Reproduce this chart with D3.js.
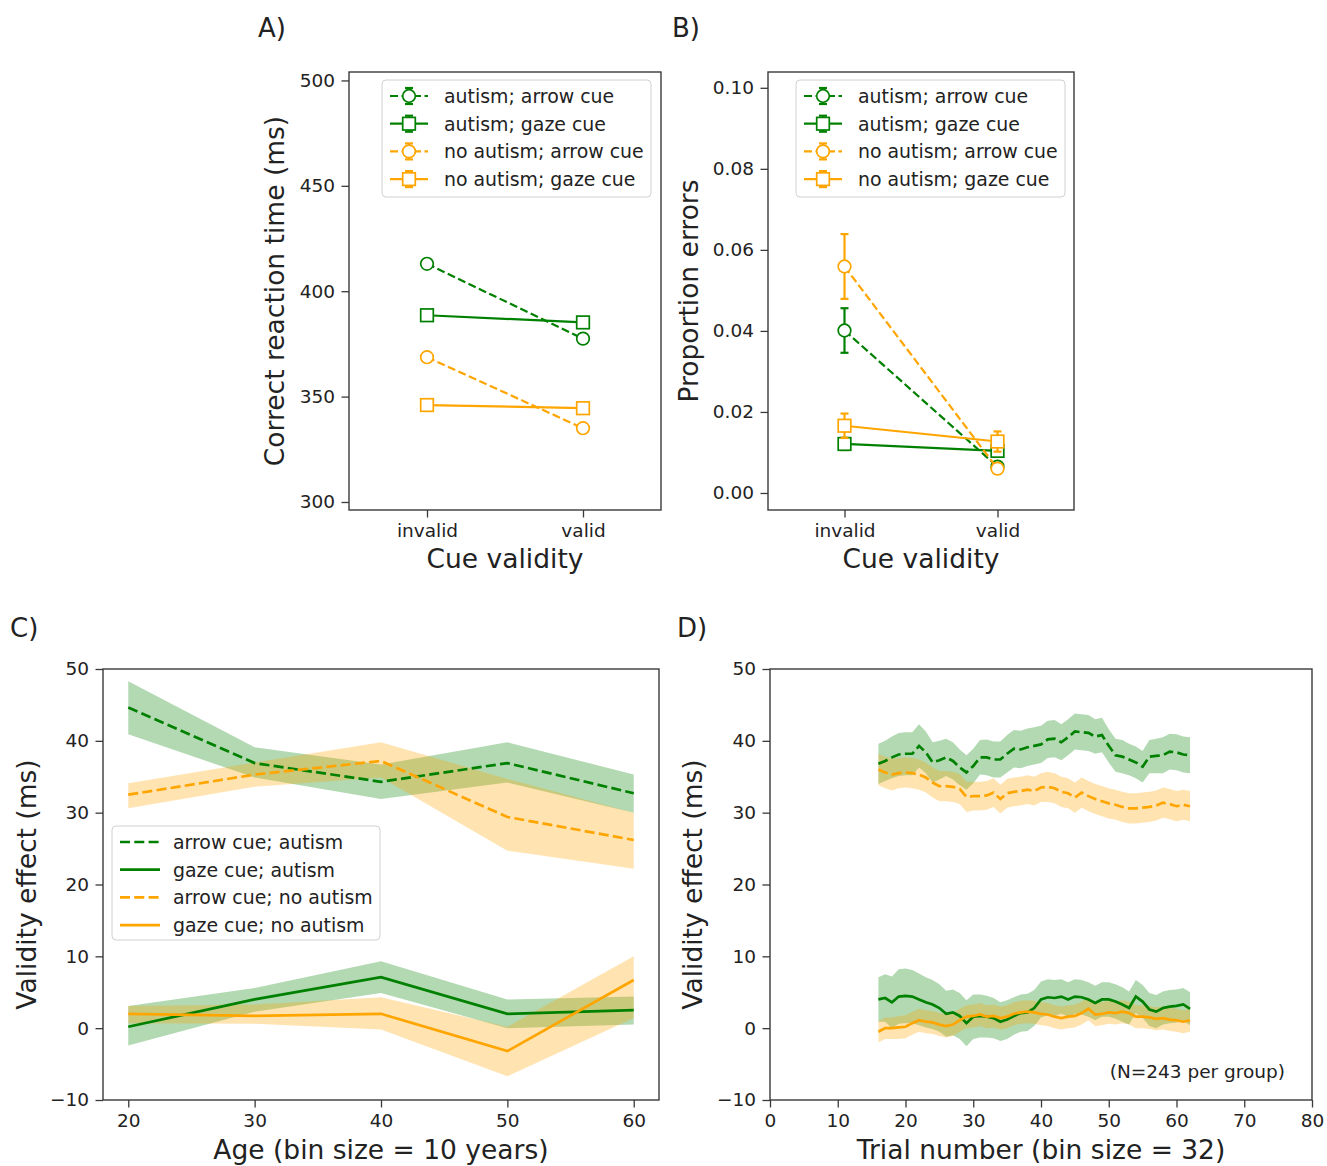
<!DOCTYPE html>
<html><head><meta charset="utf-8">
<script src="https://cdn.jsdelivr.net/npm/d3@7"></script>
<style>body{margin:0;background:#fff}svg{display:block}text{font-family:"DejaVu Sans",sans-serif;fill:#222}</style>
</head><body>
<script>
// ---------------- DATA ----------------
const cueValidity = ["invalid", "valid"];
// Panel A: correct reaction time (ms)
const rtAutismArrow = [413.0, 377.5];
const rtAutismGaze = [388.6, 385.2];
const rtNoAutismArrow = [368.7, 335.0];
const rtNoAutismGaze = [346.0, 344.5];
const rtAutismArrowSE = [1.5, 1.5];
const rtAutismGazeSE = [1.5, 1.5];
const rtNoAutismArrowSE = [1.5, 1.5];
const rtNoAutismGazeSE = [1.5, 1.5];
const rtTicks = [300, 350, 400, 450, 500];
// Panel B: proportion errors
const peAutismArrow = [0.0401, 0.0065];
const peAutismGaze = [0.0121, 0.0104];
const peNoAutismArrow = [0.0559, 0.0060];
const peNoAutismGaze = [0.0166, 0.0127];
const peAutismArrowSE = [0.0055, 0.0010];
const peAutismGazeSE = [0.0015, 0.0010];
const peNoAutismArrowSE = [0.0080, 0.0010];
const peNoAutismGazeSE = [0.0030, 0.0025];
const peTicks = [0.00, 0.02, 0.04, 0.06, 0.08, 0.10];
// Panel C: validity effect by age
const ageBins = [20, 30, 40, 50, 60];
const ageArrowAutism = [44.65, 36.9, 34.3, 36.9, 32.7];
const ageArrowAutismLo = [40.9, 34.9, 31.9, 34.2, 30.0];
const ageArrowAutismHi = [48.3, 39.1, 36.7, 39.8, 35.3];
const ageGazeAutism = [0.2, 4.0, 7.1, 2.0, 2.5];
const ageGazeAutismLo = [-2.4, 2.3, 4.9, 0.0, 0.5];
const ageGazeAutismHi = [3.1, 5.6, 9.3, 4.0, 4.4];
const ageArrowNoAutism = [32.5, 35.3, 37.2, 29.4, 26.2];
const ageArrowNoAutismLo = [30.6, 33.6, 34.9, 24.7, 22.2];
const ageArrowNoAutismHi = [34.1, 37.0, 39.8, 34.7, 30.0];
const ageGazeNoAutism = [2.0, 1.7, 2.0, -3.2, 6.7];
const ageGazeNoAutismLo = [0.7, 0.6, -0.2, -6.7, 1.4];
const ageGazeNoAutismHi = [3.1, 3.3, 4.3, 0.2, 10.0];
const ageTicks = [20, 30, 40, 50, 60];
const effectTicks = [-10, 0, 10, 20, 30, 40, 50];
// Panel D: validity effect by trial number
const trials = [16,17,18,19,20,21,22,23,24,25,26,27,28,29,30,31,32,33,34,35,36,37,38,39,40,41,42,43,44,45,46,47,48,49,50,51,52,53,54,55,56,57,58,59,60,61,62];
const trArrowAutism = [36.8,37.2,37.7,38.1,38.2,38.2,39.3,38.4,37.0,37.3,37.7,37.2,36.3,35.6,36.5,37.7,37.7,37.4,37.4,38.2,38.9,38.8,39.1,39.3,39.5,40.2,40.3,39.8,40.5,41.3,41.2,41.1,40.6,40.8,39.3,38.0,37.8,37.4,37.0,36.4,37.8,37.9,38.0,38.5,38.4,38.1,38.0];
const trArrowAutismSE = [2.8,2.8,2.9,3.0,3.0,3.0,3.0,2.9,2.8,2.7,2.6,2.6,2.5,2.4,2.4,2.4,2.5,2.5,2.5,2.6,2.6,2.6,2.6,2.6,2.6,2.6,2.6,2.5,2.5,2.5,2.5,2.5,2.4,2.4,2.3,2.3,2.3,2.2,2.2,2.2,2.3,2.4,2.5,2.5,2.5,2.5,2.5];
const trArrowNoAutism = [36.0,35.6,35.3,35.5,35.6,35.5,35.3,34.9,34.2,33.7,33.7,33.6,33.3,32.2,32.3,32.3,32.4,32.8,31.9,32.7,32.9,33.0,33.2,33.0,33.5,33.6,33.4,32.9,32.7,32.1,32.8,32.3,31.9,31.6,31.3,31.1,30.8,30.6,30.6,30.7,30.8,31.0,31.4,31.2,30.9,31.1,30.9];
const trArrowNoAutismSE = [2.2,2.2,2.2,2.1,2.1,2.1,2.1,2.1,2.1,2.1,2.1,2.1,2.1,2.1,2.0,2.0,2.0,2.0,2.0,2.0,2.0,2.0,2.0,2.0,2.0,2.1,2.1,2.1,2.1,2.1,2.1,2.1,2.1,2.1,2.1,2.1,2.1,2.1,2.1,2.1,2.1,2.1,2.1,2.1,2.1,2.1,2.1];
const trGazeAutism = [4.0,4.2,3.6,4.4,4.5,4.4,4.0,3.6,3.3,2.8,2.0,2.2,1.7,0.7,1.6,1.7,1.6,1.4,0.9,1.2,1.7,2.1,2.2,2.8,4.0,4.3,4.2,4.4,4.0,4.4,4.3,4.0,3.5,4.0,4.0,3.7,3.3,2.8,4.4,3.7,2.6,2.3,2.8,3.0,3.1,3.3,2.7];
const trGazeAutismSE = [3.1,3.3,3.6,3.8,3.8,3.7,3.6,3.5,3.4,3.3,3.2,3.2,3.2,3.2,3.1,3.0,2.9,2.8,2.7,2.7,2.6,2.6,2.6,2.5,2.5,2.5,2.5,2.4,2.4,2.4,2.4,2.4,2.4,2.4,2.4,2.4,2.4,2.3,2.3,2.3,2.3,2.3,2.3,2.3,2.3,2.3,2.3];
const trGazeNoAutism = [-0.5,0.0,0.0,0.1,0.2,0.7,1.1,0.9,0.8,0.5,0.3,0.5,1.1,1.6,1.7,1.9,1.6,1.7,1.4,1.6,2.0,2.2,2.3,2.2,2.0,1.9,1.6,1.4,1.6,1.7,2.1,2.7,1.9,2.0,2.2,2.1,2.3,2.1,1.6,1.6,1.5,1.3,1.4,1.2,1.1,0.9,1.1];
const trGazeNoAutismSE = [1.5,1.5,1.5,1.6,1.6,1.6,1.6,1.6,1.6,1.6,1.6,1.6,1.6,1.6,1.6,1.6,1.6,1.6,1.6,1.6,1.6,1.6,1.6,1.6,1.6,1.6,1.6,1.6,1.6,1.6,1.6,1.6,1.6,1.6,1.6,1.6,1.6,1.6,1.6,1.6,1.6,1.6,1.6,1.6,1.6,1.6,1.6];
const trialTicks = [0, 10, 20, 30, 40, 50, 60, 70, 80];

// ---------------- STYLE ----------------
const GREEN = "#008000", ORANGE = "#ffa500";
const W = 1327, H = 1166;
const TICK_FS = 18.5, LABEL_FS = 26.5, LEG_FS = 18.9;
const svg = d3.select("body").append("svg").attr("width", W).attr("height", H);
svg.append("rect").attr("width", W).attr("height", H).attr("fill", "#fff");

function frame(x0, x1, y0, y1) {
  svg.append("rect").attr("x", x0).attr("y", y0).attr("width", x1 - x0).attr("height", y1 - y0)
    .attr("fill", "none").attr("stroke", "#3a3a3a").attr("stroke-width", 1.4);
}
function styleAxis(g) {
  g.select(".domain").remove();
  g.selectAll("line").attr("stroke", "#3a3a3a").attr("stroke-width", 1.3);
  g.selectAll("text").attr("font-size", TICK_FS).attr("fill", "#222").attr("font-family", "DejaVu Sans");
}
function yAxis(y, x0, ticks, fmt) {
  styleAxis(svg.append("g").attr("transform", `translate(${x0},0)`)
    .call(d3.axisLeft(y).tickValues(ticks).tickFormat(fmt).tickSize(7.5).tickPadding(6.5)));
}
function xAxis(x, y0, ticks, fmt) {
  styleAxis(svg.append("g").attr("transform", `translate(0,${y0})`)
    .call(d3.axisBottom(x).tickValues(ticks).tickFormat(fmt).tickSize(7.5).tickPadding(6.5)));
}
function label(txt, x, y, size, rot, anchor) {
  const t = svg.append("text").text(txt).attr("font-size", size).attr("text-anchor", anchor || "middle");
  if (rot) t.attr("transform", `translate(${x},${y}) rotate(-90)`);
  else t.attr("x", x).attr("y", y);
  return t;
}
function marker(g, shape, cx, cy, color) {
  if (shape === "o") g.append("circle").attr("cx", cx).attr("cy", cy).attr("r", 6.3)
    .attr("fill", "#fff").attr("stroke", color).attr("stroke-width", 1.7);
  else g.append("rect").attr("x", cx - 6.3).attr("y", cy - 6.3).attr("width", 12.6).attr("height", 12.6)
    .attr("fill", "#fff").attr("stroke", color).attr("stroke-width", 1.7);
}
function errbar(g, cx, yTop, yBot, color) {
  g.append("line").attr("x1", cx).attr("x2", cx).attr("y1", yTop).attr("y2", yBot).attr("stroke", color).attr("stroke-width", 2.2);
  [yTop, yBot].forEach(yy => g.append("line").attr("x1", cx - 4).attr("x2", cx + 4).attr("y1", yy).attr("y2", yy).attr("stroke", color).attr("stroke-width", 2.2));
}

// ---------------- PANELS A & B ----------------
function cuePanel(xr, yDom, vals, ticks, fmt, ylab, ylabX, legX) {
  const x = d3.scaleLinear().domain([-0.5, 1.5]).range(xr);
  const y = d3.scaleLinear().domain(yDom).range([510, 72]);
  const g = svg.append("g");
  vals.forEach(s => {
    g.append("path").datum(s.v).attr("fill", "none").attr("stroke", s.c).attr("stroke-width", 2.2)
      .attr("stroke-dasharray", s.dash ? "8,3.5" : null)
      .attr("d", d3.line().x((d, i) => x(i)).y(d => y(d)));
    s.v.forEach((d, i) => errbar(g, x(i), y(d + s.e[i]), y(d - s.e[i]), s.c));
    s.v.forEach((d, i) => marker(g, s.m, x(i), y(d), s.c));
  });
  frame(xr[0], xr[1], 72, 510);
  yAxis(y, xr[0], ticks, fmt);
  xAxis(x, 510, [0, 1], i => cueValidity[i]);
  label("Cue validity", (xr[0] + xr[1]) / 2, 568, LABEL_FS);
  label(ylab, ylabX, 291, LABEL_FS, true);
  // legend
  const lg = svg.append("g");
  lg.append("rect").attr("x", legX).attr("y", 80).attr("width", 269).attr("height", 117).attr("rx", 4)
    .attr("fill", "#fff").attr("fill-opacity", 0.85).attr("stroke", "#d0d0d0").attr("stroke-width", 1);
  vals.forEach((s, k) => {
    const cy = 96 + k * 27.7;
    lg.append("line").attr("x1", legX + 8).attr("x2", legX + 46).attr("y1", cy).attr("y2", cy)
      .attr("stroke", s.c).attr("stroke-width", 2.2).attr("stroke-dasharray", s.dash ? "8,3.5" : null);
    errbar(lg, legX + 27, cy - 8, cy + 8, s.c);
    marker(lg, s.m, legX + 27, cy, s.c);
    lg.append("text").text(s.name).attr("x", legX + 62).attr("y", cy).attr("dy", "0.36em").attr("font-size", LEG_FS);
  });
}
cuePanel([349, 661], [296.2, 504], [
  { name: "autism; arrow cue", v: rtAutismArrow, e: rtAutismArrowSE, c: GREEN, m: "o", dash: true },
  { name: "autism; gaze cue", v: rtAutismGaze, e: rtAutismGazeSE, c: GREEN, m: "s", dash: false },
  { name: "no autism; arrow cue", v: rtNoAutismArrow, e: rtNoAutismArrowSE, c: ORANGE, m: "o", dash: true },
  { name: "no autism; gaze cue", v: rtNoAutismGaze, e: rtNoAutismGazeSE, c: ORANGE, m: "s", dash: false }
], rtTicks, d3.format("d"), "Correct reaction time (ms)", 284, 382);

cuePanel([768, 1074], [-0.0042, 0.1039], [
  { name: "autism; arrow cue", v: peAutismArrow, e: peAutismArrowSE, c: GREEN, m: "o", dash: true },
  { name: "autism; gaze cue", v: peAutismGaze, e: peAutismGazeSE, c: GREEN, m: "s", dash: false },
  { name: "no autism; arrow cue", v: peNoAutismArrow, e: peNoAutismArrowSE, c: ORANGE, m: "o", dash: true },
  { name: "no autism; gaze cue", v: peNoAutismGaze, e: peNoAutismGazeSE, c: ORANGE, m: "s", dash: false }
], peTicks, d3.format(".2f"), "Proportion errors", 698, 796);

// ---------------- PANELS C & D ----------------
function bandPanel(xr, xDom, xv, series, xticks, xlab, ylabX) {
  const x = d3.scaleLinear().domain(xDom).range(xr);
  const y = d3.scaleLinear().domain([-10, 50]).range([1100, 669]);
  const g = svg.append("g");
  series.forEach(s => {
    g.append("path").datum(xv.map((d, i) => i)).attr("fill", s.c).attr("fill-opacity", 0.3).attr("stroke", "none")
      .attr("d", d3.area().x(i => x(xv[i])).y0(i => y(s.lo[i])).y1(i => y(s.hi[i])));
  });
  series.forEach(s => {
    g.append("path").datum(xv.map((d, i) => i)).attr("fill", "none").attr("stroke", s.c).attr("stroke-width", 2.7)
      .attr("stroke-dasharray", s.dash ? "10,4.3" : null)
      .attr("d", d3.line().x(i => x(xv[i])).y(i => y(s.v[i])));
  });
  frame(xr[0], xr[1], 669, 1100);
  yAxis(y, xr[0], effectTicks, d3.format("d"));
  xAxis(x, 1100, xticks, d3.format("d"));
  label(xlab, (xr[0] + xr[1]) / 2, 1159, LABEL_FS);
  label("Validity effect (ms)", ylabX, 884.5, LABEL_FS, true);
}
bandPanel([103, 659], [18, 62], ageBins, [
  { v: ageArrowAutism, lo: ageArrowAutismLo, hi: ageArrowAutismHi, c: GREEN, dash: true },
  { v: ageGazeAutism, lo: ageGazeAutismLo, hi: ageGazeAutismHi, c: GREEN, dash: false },
  { v: ageArrowNoAutism, lo: ageArrowNoAutismLo, hi: ageArrowNoAutismHi, c: ORANGE, dash: true },
  { v: ageGazeNoAutism, lo: ageGazeNoAutismLo, hi: ageGazeNoAutismHi, c: ORANGE, dash: false }
], ageTicks, "Age (bin size = 10 years)", 36);

const dSeries = [
  { v: trArrowAutism, e: trArrowAutismSE, c: GREEN, dash: true },
  { v: trGazeAutism, e: trGazeAutismSE, c: GREEN, dash: false },
  { v: trArrowNoAutism, e: trArrowNoAutismSE, c: ORANGE, dash: true },
  { v: trGazeNoAutism, e: trGazeNoAutismSE, c: ORANGE, dash: false }
].map(s => ({ ...s, lo: s.v.map((d, i) => d - s.e[i]), hi: s.v.map((d, i) => d + s.e[i]) }));
bandPanel([770, 1312], [0, 80], trials, dSeries, trialTicks, "Trial number (bin size = 32)", 702);
label("(N=243 per group)", 1285, 1078, TICK_FS, false, "end");

// legend C
const lc = svg.append("g");
lc.append("rect").attr("x", 112).attr("y", 826).attr("width", 268).attr("height", 114).attr("rx", 4)
  .attr("fill", "#fff").attr("fill-opacity", 0.85).attr("stroke", "#d0d0d0");
[["arrow cue; autism", GREEN, true], ["gaze cue; autism", GREEN, false],
 ["arrow cue; no autism", ORANGE, true], ["gaze cue; no autism", ORANGE, false]].forEach((e, k) => {
  const cy = 842 + k * 27.7;
  lc.append("line").attr("x1", 120).attr("x2", 160).attr("y1", cy).attr("y2", cy).attr("stroke", e[1])
    .attr("stroke-width", 2.7).attr("stroke-dasharray", e[2] ? "10,4.3" : null);
  lc.append("text").text(e[0]).attr("x", 173).attr("y", cy).attr("dy", "0.36em").attr("font-size", LEG_FS);
});

// panel letters
label("A)", 258, 37, 26, false, "start");
label("B)", 672, 37, 26, false, "start");
label("C)", 10, 637, 26, false, "start");
label("D)", 677, 637, 26, false, "start");
</script>
</body></html>
